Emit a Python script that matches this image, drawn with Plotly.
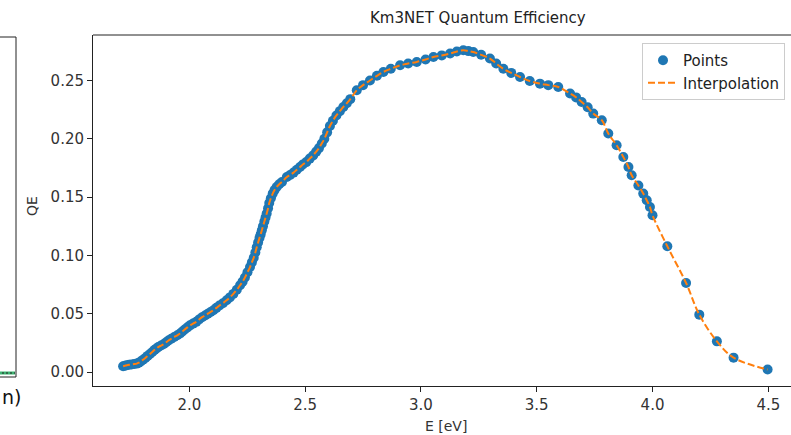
import plotly.graph_objects as go

# Photon energy [eV] and quantum efficiency
energy = [1.714, 1.722, 1.73, 1.74, 1.75, 1.762, 1.773, 1.782, 1.79, 1.80, 1.81, 1.82,
          1.83, 1.84, 1.85, 1.858, 1.866, 1.878, 1.89, 1.90, 1.91, 1.922, 1.935, 1.948,
          1.96, 1.97, 1.98, 1.992, 2.003, 2.016, 2.03, 2.042, 2.055, 2.068, 2.08, 2.092,
          2.104, 2.117, 2.13, 2.145, 2.161, 2.175, 2.19, 2.205, 2.219, 2.23, 2.24, 2.251,
          2.262, 2.27, 2.278, 2.285, 2.291, 2.297, 2.303, 2.308, 2.313, 2.318, 2.324,
          2.329, 2.334, 2.34, 2.345, 2.352, 2.36, 2.368, 2.377, 2.388, 2.40,
          2.421, 2.435, 2.45, 2.464, 2.478, 2.49, 2.505, 2.52, 2.535, 2.548, 2.56, 2.572,
          2.583, 2.595, 2.607, 2.62, 2.635, 2.65, 2.665, 2.68, 2.695,
          2.723, 2.75, 2.78, 2.81, 2.838, 2.87, 2.91, 2.945, 2.982, 3.02, 3.054, 3.09,
          3.126, 3.155, 3.183, 3.205, 3.226, 3.26, 3.298, 3.325, 3.356, 3.39, 3.428,
          3.47, 3.514, 3.55, 3.593, 3.644, 3.67, 3.694, 3.72, 3.744, 3.781, 3.809,
          3.845, 3.874, 3.896, 3.91, 3.939, 3.96, 3.975, 3.989, 4.0, 4.064, 4.145,
          4.202, 4.278, 4.35, 4.497]
qe = [0.005, 0.0054, 0.0058, 0.0062, 0.0065, 0.0068, 0.0072, 0.008, 0.009, 0.0105, 0.012,
      0.0138, 0.0155, 0.0172, 0.019, 0.0202, 0.0214, 0.0227, 0.024, 0.0255, 0.027, 0.0285,
      0.030, 0.0315, 0.033, 0.0347, 0.0365, 0.0383, 0.040, 0.0415, 0.043, 0.045, 0.047,
      0.0485, 0.050, 0.0515, 0.053, 0.055, 0.057, 0.059, 0.0615, 0.064, 0.067, 0.0705,
      0.0744, 0.0775, 0.081, 0.0855, 0.090, 0.094, 0.098, 0.1025, 0.107, 0.111, 0.115,
      0.118, 0.1215, 0.125, 0.129, 0.1325, 0.136, 0.1405, 0.145, 0.149, 0.153, 0.156,
      0.1587, 0.161, 0.163,
      0.1672, 0.169, 0.171, 0.1735, 0.1758, 0.178, 0.180, 0.183, 0.1858, 0.189, 0.192,
      0.196, 0.200, 0.2055, 0.211, 0.2155, 0.220, 0.2237, 0.2273, 0.2305, 0.234,
      0.2416, 0.246, 0.250, 0.254, 0.2573, 0.260, 0.263, 0.2645, 0.2659, 0.268, 0.2702,
      0.2715, 0.2731, 0.2748, 0.2759, 0.2752, 0.2744, 0.272, 0.2688, 0.2645, 0.260,
      0.2565, 0.253, 0.2495, 0.2473, 0.246, 0.2444, 0.2388, 0.2355, 0.2316, 0.227,
      0.2216, 0.2159, 0.2045, 0.1944, 0.1844, 0.1758, 0.1687, 0.160, 0.153, 0.1473,
      0.1415, 0.1344, 0.1078, 0.0763, 0.0492, 0.0263, 0.0123, 0.0021]

x_ticks = [2.0, 2.5, 3.0, 3.5, 4.0, 4.5]
y_ticks = [0.00, 0.05, 0.10, 0.15, 0.20, 0.25]

FONT = "DejaVu Sans"
W, H = 791, 435
ML, MR, MT, MB = 93, 0, 35, 49
PW, PH = W - ML - MR, H - MT - MB


def px(x):
    return (x - ML) / PW


def py(y):
    return 1 - (y - MT) / PH


fig = go.Figure()
fig.add_trace(go.Scatter(
    x=energy, y=qe, mode="markers", name="Points",
    marker=dict(color="#1f77b4", size=10, line=dict(width=0)),
))
fig.add_trace(go.Scatter(
    x=energy, y=qe, mode="lines", name="Interpolation",
    line=dict(color="#ff7f0e", width=2, dash="7px,3px", shape="spline", smoothing=1.0),
))

axis_common = dict(
    showgrid=False, zeroline=False, showline=True, linecolor="#222", linewidth=1,
    ticks="outside", ticklen=5, tickcolor="#222", tickwidth=1,
    tickfont=dict(family=FONT, size=15, color="#333"),
)
fig.update_xaxes(range=[1.584, 4.598], tickvals=x_ticks,
                 ticktext=[f"{v:.1f}" for v in x_ticks], **axis_common)
fig.update_yaxes(range=[-0.0120, 0.2890], tickvals=y_ticks,
                 ticktext=[f"{v:.2f}" for v in y_ticks], **axis_common)

shapes = [
    # top frame line of main axes
    dict(type="line", xref="paper", yref="paper", x0=0, x1=1, y0=1, y1=1,
         line=dict(color="#222", width=1)),
    # partial neighbouring panel on the left
    dict(type="line", xref="paper", yref="paper", x0=px(-2), x1=px(16), y0=py(37), y1=py(37),
         line=dict(color="#222", width=1)),
    dict(type="line", xref="paper", yref="paper", x0=px(16), x1=px(16), y0=py(37), y1=py(377),
         line=dict(color="#222", width=1)),
    dict(type="line", xref="paper", yref="paper", x0=px(-2), x1=px(16), y0=py(377), y1=py(377),
         line=dict(color="#222", width=1)),
    dict(type="line", xref="paper", yref="paper", x0=px(-2), x1=px(15), y0=py(373), y1=py(373),
         line=dict(color="#3cb371", width=3)),
    dict(type="line", xref="paper", yref="paper", x0=px(-2), x1=px(15), y0=py(373), y1=py(373),
         line=dict(color="#222", width=1, dash="2px,2px")),
]

annotations = [
    dict(text="Km3NET Quantum Efficiency", xref="paper", yref="paper",
         x=px(478), y=py(18), xanchor="center", yanchor="middle", showarrow=False,
         font=dict(family=FONT, size=15, color="#222")),
    dict(text="E [eV]", xref="paper", yref="paper",
         x=px(446), y=py(426), xanchor="center", yanchor="middle", showarrow=False,
         font=dict(family=FONT, size=14, color="#333")),
    dict(text="QE", xref="paper", yref="paper", textangle=-90,
         x=px(32), y=py(206), xanchor="center", yanchor="middle", showarrow=False,
         font=dict(family=FONT, size=14, color="#333")),
    dict(text="n)", xref="paper", yref="paper",
         x=px(0), y=py(397), xanchor="left", yanchor="middle", showarrow=False,
         font=dict(family=FONT, size=19, color="#111")),
]

fig.update_layout(
    width=W, height=H,
    margin=dict(l=ML, r=MR, t=MT, b=MB, pad=0),
    plot_bgcolor="white", paper_bgcolor="white",
    showlegend=True,
    legend=dict(x=px(785), y=py(43), xanchor="right", yanchor="top",
                bgcolor="rgba(255,255,255,0.85)", bordercolor="#ccc", borderwidth=1,
                font=dict(family=FONT, size=15, color="#222"), tracegroupgap=0,
                itemwidth=30),
    shapes=shapes,
    annotations=annotations,
)

fig.write_html("out.html")
